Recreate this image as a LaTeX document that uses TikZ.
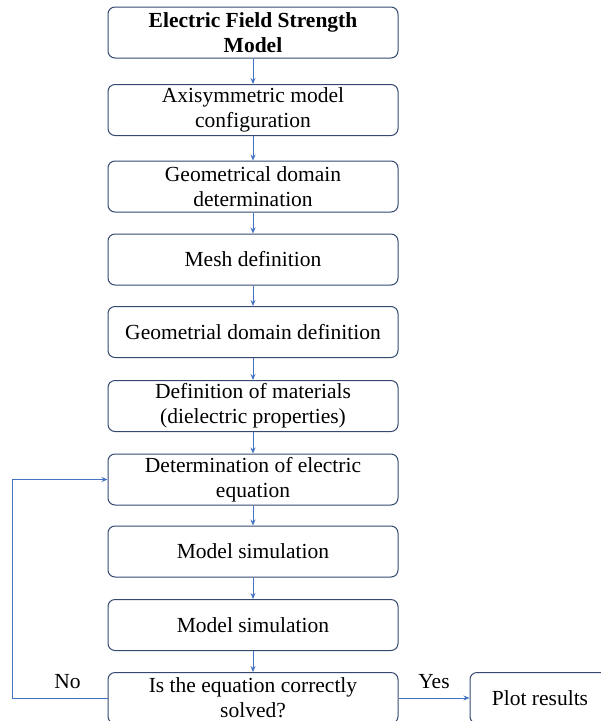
\documentclass[tikz,border=0pt]{standalone}
\usepackage{fontspec}
\setmainfont{Liberation Serif}
\usepackage{xcolor}
\usetikzlibrary{arrows.meta, positioning}
\definecolor{boxline}{RGB}{52, 72, 112}
\definecolor{flow}{RGB}{68, 114, 196}

\begin{document}
\begin{tikzpicture}[x=1pt, y=-1pt,
    box/.style={rectangle, rounded corners=7pt, draw=boxline, line width=1pt,
                minimum width=290pt, minimum height=51pt, align=center,
                font=\fontsize{21.5}{25}\selectfont, inner sep=1pt},
    flowline/.style={-{Stealth[length=6pt, width=5pt]}, draw=flow, line width=0.9pt}]
    \clip (0,0) rectangle (601,721);

    % Main column
    \node[box, font=\fontsize{21.5}{25}\selectfont\bfseries] (model) at (253, 32.5) {Electric Field Strength\\Model};
    \node[box] (axis) at (253, 110) {Axisymmetric model\\configuration};
    \node[box] (geodet) at (253, 186.5) {Geometrical domain\\determination};
    \node[box] (mesh) at (253, 259.5) {Mesh definition};
    \node[box] (geodef) at (253, 332) {Geometrial domain definition};
    \node[box] (mat) at (253, 406) {Definition of materials\\(dielectric properties)};
    \node[box] (eqn) at (253, 479.5) {Determination of electric\\equation};
    \node[box] (sim1) at (253, 551.5) {Model simulation};
    \node[box] (sim2) at (253, 625) {Model simulation};

    % Decision
    \node[box] (check) at (253, 698) {Is the equation correctly\\solved?};

    % Output
    \node[box, minimum width=140pt] (plot) at (540, 698) {Plot results};

    % Arrows
    \draw[flowline] (model) -- (axis);
    \draw[flowline] (axis) -- (geodet);
    \draw[flowline] (geodet) -- (mesh);
    \draw[flowline] (mesh) -- (geodef);
    \draw[flowline] (geodef) -- (mat);
    \draw[flowline] (mat) -- (eqn);
    \draw[flowline] (eqn) -- (sim1);
    \draw[flowline] (sim1) -- (sim2);
    \draw[flowline] (sim2) -- (check);
    \draw[flowline] (check.east) -- node[above=6pt, black, font=\fontsize{21.5}{25}\selectfont]{Yes} (plot.west);
    \draw[flowline] (check.west) -- node[above=6pt, black, font=\fontsize{21.5}{25}\selectfont, pos=0.42]{No} (12, 698) |- (eqn.west);
\end{tikzpicture}
\end{document}
